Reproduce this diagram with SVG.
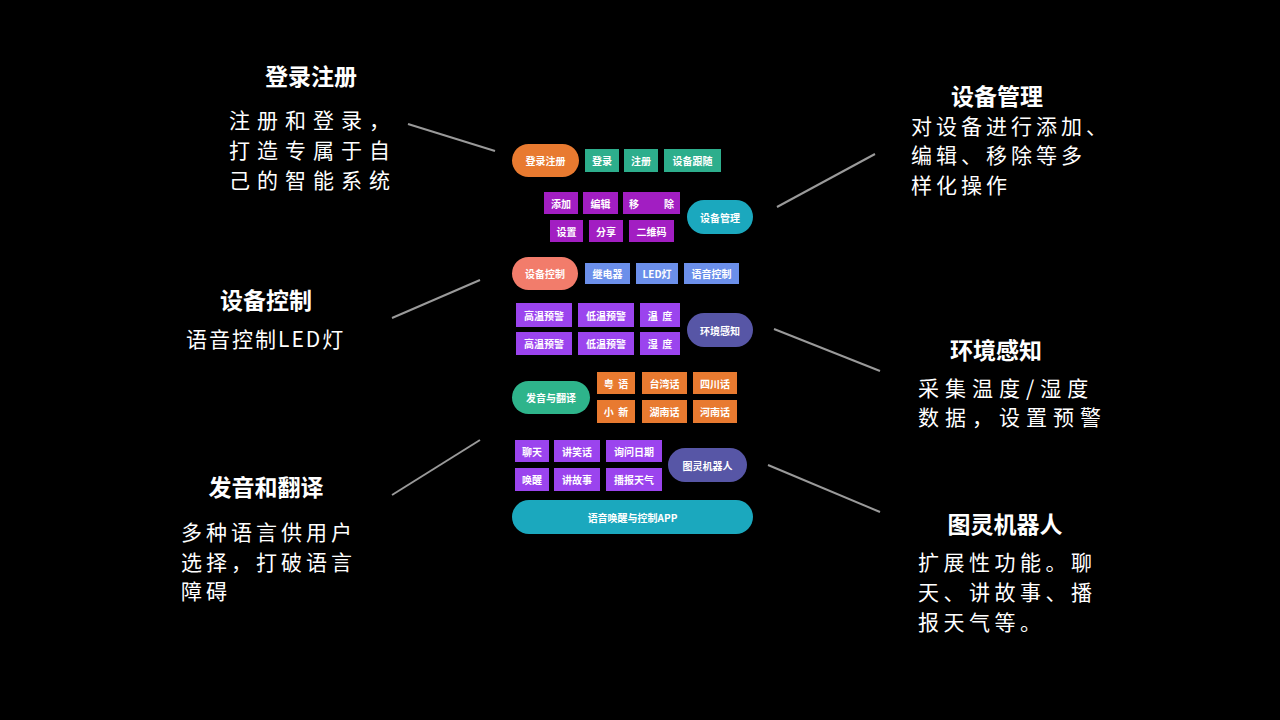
<svg xmlns="http://www.w3.org/2000/svg" width="1280" height="720" viewBox="0 0 1280 720">
<style>
.h{font-family:"Noto Sans CJK SC","Noto Sans",sans-serif;font-weight:700;font-size:23px;fill:#fff;text-anchor:middle;dominant-baseline:central}
.d{font-family:"Noto Sans CJK SC","Noto Sans",sans-serif;font-size:21px;fill:#fff;dominant-baseline:central}
.s{font-family:"Noto Sans CJK SC","Noto Sans",sans-serif;font-weight:700;font-size:10px;fill:#fff;text-anchor:middle;dominant-baseline:central}
.c{stroke:#9a9a9a;stroke-width:2;fill:none}
.or{fill:#E87A30}.tg{fill:#2DAE8C}.tb{fill:#1BA8BE}.sa{fill:#F27C6B}.bl{fill:#6B8FEA}
.mg{fill:#A21EC2}.vi{fill:#9B44EE}.dk{fill:#5756A6}.gr{fill:#2EB48B}
</style>
<rect width="1280" height="720" fill="#000"/>
<g id="connectors">
<line class="c" x1="408" y1="124" x2="495" y2="151"/>
<line class="c" x1="777" y1="207" x2="875" y2="154"/>
<line class="c" x1="392" y1="318" x2="480" y2="280"/>
<line class="c" x1="774" y1="329" x2="880" y2="371"/>
<line class="c" x1="392" y1="495" x2="480" y2="440"/>
<line class="c" x1="768" y1="465" x2="880" y2="512"/>
</g>
<g id="label-login">
<text class="h" x="311" y="75">登录注册</text>
<text class="d" x="229" y="119" letter-spacing="7">注册和登录，</text>
<text class="d" x="229" y="149" letter-spacing="7">打造专属于自</text>
<text class="d" x="229" y="179" letter-spacing="7">己的智能系统</text>
</g>
<g id="label-manage">
<text class="h" x="997" y="95">设备管理</text>
<text class="d" x="911" y="125" letter-spacing="4">对设备进行添加、</text>
<text class="d" x="911" y="154" letter-spacing="4">编辑、移除等多</text>
<text class="d" x="911" y="184" letter-spacing="4">样化操作</text>
</g>
<g id="label-control">
<text class="h" x="266" y="299">设备控制</text>
<text class="d" x="186" y="338" letter-spacing="2">语音控制LED灯</text>
</g>
<g id="label-env">
<text class="h" x="996" y="349">环境感知</text>
<text class="d" x="918" y="387" letter-spacing="6">采集温度/湿度</text>
<text class="d" x="918" y="416" letter-spacing="6">数据，设置预警</text>
</g>
<g id="label-voice">
<text class="h" x="266" y="486">发音和翻译</text>
<text class="d" x="181" y="531" letter-spacing="4">多种语言供用户</text>
<text class="d" x="181" y="561" letter-spacing="4">选择，打破语言</text>
<text class="d" x="181" y="590" letter-spacing="4">障碍</text>
</g>
<g id="label-robot">
<text class="h" x="1005" y="523">图灵机器人</text>
<text class="d" x="918" y="561" letter-spacing="4.5">扩展性功能。聊</text>
<text class="d" x="918" y="591" letter-spacing="4.5">天、讲故事、播</text>
<text class="d" x="918" y="621" letter-spacing="4.5">报天气等。</text>
</g>
<g id="node-login">
<rect class="or" x="512" y="144" width="67" height="33" rx="16.5"/>
<text class="s" x="545.5" y="160.5">登录注册</text>
<rect class="tg" x="585" y="149" width="34" height="23"/><text class="s" x="602" y="160.5">登录</text>
<rect class="tg" x="624" y="149" width="34" height="23"/><text class="s" x="641" y="160.5">注册</text>
<rect class="tg" x="664" y="149" width="57" height="23"/><text class="s" x="692.5" y="160.5">设备跟随</text>
</g>
<g id="node-manage">
<rect class="mg" x="544" y="192" width="34" height="22"/><text class="s" x="561" y="203">添加</text>
<rect class="mg" x="583" y="192" width="35" height="22"/><text class="s" x="600.5" y="203">编辑</text>
<rect class="mg" x="623" y="192" width="57" height="22"/><text class="s" x="634" y="203">移</text><text class="s" x="669" y="203">除</text>
<rect class="mg" x="550" y="220" width="33" height="22"/><text class="s" x="566.5" y="231">设置</text>
<rect class="mg" x="589" y="220" width="34" height="22"/><text class="s" x="606" y="231">分享</text>
<rect class="mg" x="629" y="220" width="45" height="22"/><text class="s" x="651.5" y="231">二维码</text>
<rect class="tb" x="687" y="200" width="66" height="34" rx="17"/>
<text class="s" x="720" y="217">设备管理</text>
</g>
<g id="node-control">
<rect class="sa" x="512" y="257" width="66" height="33" rx="16.5"/>
<text class="s" x="545" y="273.5">设备控制</text>
<rect class="bl" x="585" y="263" width="45" height="21"/><text class="s" x="607.5" y="273.5">继电器</text>
<rect class="bl" x="636" y="263" width="42" height="21"/><text class="s" x="657" y="273.5">LED灯</text>
<rect class="bl" x="684" y="263" width="55" height="21"/><text class="s" x="711.5" y="273.5">语音控制</text>
</g>
<g id="node-env">
<rect class="vi" x="516" y="303" width="56" height="24"/><text class="s" x="544" y="315">高温预警</text>
<rect class="vi" x="578" y="303" width="56" height="24"/><text class="s" x="606" y="315">低温预警</text>
<rect class="vi" x="640" y="303" width="40" height="24"/><text class="s" x="660" y="315" xml:space="preserve">温  度</text>
<rect class="vi" x="516" y="332" width="56" height="23"/><text class="s" x="544" y="343.5">高温预警</text>
<rect class="vi" x="578" y="332" width="56" height="23"/><text class="s" x="606" y="343.5">低温预警</text>
<rect class="vi" x="640" y="332" width="40" height="23"/><text class="s" x="660" y="343.5" xml:space="preserve">湿  度</text>
<rect class="dk" x="687" y="313" width="66" height="34" rx="17"/>
<text class="s" x="720" y="330">环境感知</text>
</g>
<g id="node-voice">
<rect class="gr" x="512" y="381" width="78" height="33" rx="16.5"/>
<text class="s" x="551" y="397.5">发音与翻译</text>
<rect class="or" x="597" y="372" width="38" height="22"/><text class="s" x="616" y="383" xml:space="preserve">粤  语</text>
<rect class="or" x="642" y="372" width="45" height="22"/><text class="s" x="664.5" y="383">台湾话</text>
<rect class="or" x="693" y="372" width="44" height="22"/><text class="s" x="715" y="383">四川话</text>
<rect class="or" x="597" y="400" width="38" height="23"/><text class="s" x="616" y="411.5" xml:space="preserve">小  新</text>
<rect class="or" x="642" y="400" width="45" height="23"/><text class="s" x="664.5" y="411.5">湖南话</text>
<rect class="or" x="693" y="400" width="44" height="23"/><text class="s" x="715" y="411.5">河南话</text>
</g>
<g id="node-robot">
<rect class="vi" x="515" y="440" width="34" height="22"/><text class="s" x="532" y="451">聊天</text>
<rect class="vi" x="554" y="440" width="46" height="22"/><text class="s" x="577" y="451">讲笑话</text>
<rect class="vi" x="606" y="440" width="56" height="22"/><text class="s" x="634" y="451">询问日期</text>
<rect class="vi" x="515" y="468" width="34" height="23"/><text class="s" x="532" y="479.5">唤醒</text>
<rect class="vi" x="554" y="468" width="46" height="23"/><text class="s" x="577" y="479.5">讲故事</text>
<rect class="vi" x="606" y="468" width="56" height="23"/><text class="s" x="634" y="479.5">播报天气</text>
<rect class="dk" x="668" y="448" width="79" height="34" rx="17"/>
<text class="s" x="707.5" y="465">图灵机器人</text>
</g>
<g id="node-app">
<rect class="tb" x="512" y="500" width="241" height="34" rx="17"/>
<text class="s" x="632.5" y="517">语音唤醒与控制APP</text>
</g>
</svg>
